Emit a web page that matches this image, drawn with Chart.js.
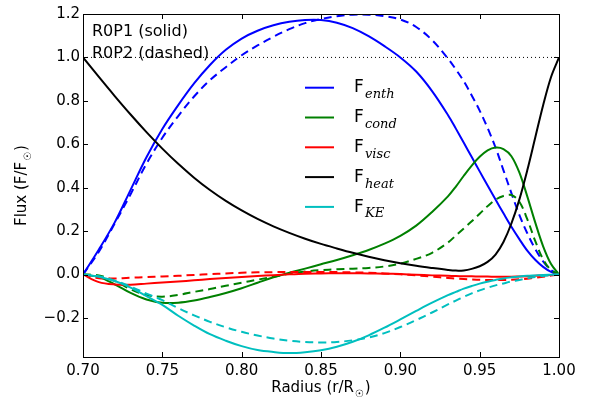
<!DOCTYPE html>
<html>
<head>
<meta charset="utf-8">
<script src="https://cdn.jsdelivr.net/npm/chart.js@4"></script>
<style>
  html, body { margin: 0; padding: 0; background: #fff; }
  canvas { display: block; }
</style>
</head>
<body>
<canvas id="fluxChart" width="592" height="408"></canvas>
<script>
// radius grid (r/Rsun), finer near the surface
const radius = [0.70, 0.71, 0.72, 0.73, 0.74, 0.75, 0.76, 0.77, 0.78, 0.79,
                0.80, 0.81, 0.82, 0.83, 0.84, 0.85, 0.86, 0.87, 0.88, 0.89,
                0.90, 0.91, 0.92, 0.93, 0.935, 0.94, 0.945, 0.95, 0.955, 0.96,
                0.965, 0.97, 0.975, 0.98, 0.985, 0.99, 0.995, 1.00];

// R0P1 (solid)
const enthSolid = [0, 0.115, 0.24, 0.39, 0.54, 0.67, 0.78, 0.88, 0.965, 1.035,
                   1.087, 1.123, 1.148, 1.164, 1.172, 1.172, 1.16, 1.135, 1.098, 1.052,
                   1.0, 0.935, 0.845, 0.735, 0.672, 0.607, 0.541, 0.475, 0.41, 0.345,
                   0.282, 0.22, 0.163, 0.11, 0.068, 0.035, 0.012, 0];
const condSolid = [0, -0.012, -0.045, -0.085, -0.115, -0.13, -0.13, -0.12, -0.104, -0.085,
                   -0.063, -0.038, -0.013, 0.008, 0.027, 0.047, 0.067, 0.089, 0.113, 0.142,
                   0.178, 0.225, 0.288, 0.36, 0.405, 0.455, 0.502, 0.542, 0.572, 0.585,
                   0.578, 0.545, 0.47, 0.36, 0.24, 0.13, 0.048, 0];
const viscSolid = [0, -0.035, -0.046, -0.047, -0.042, -0.037, -0.032, -0.027, -0.021, -0.016,
                   -0.011, -0.007, -0.003, 0.001, 0.004, 0.005, 0.006, 0.006, 0.005, 0.004,
                   0.002, -0.001, -0.004, -0.006, -0.007, -0.008, -0.0085, -0.009, -0.0095, -0.01,
                   -0.01, -0.01, -0.009, -0.008, -0.006, -0.004, -0.002, 0];
const heatSolid = [1.0, 0.91, 0.822, 0.737, 0.656, 0.58, 0.51, 0.446, 0.389, 0.339,
                   0.295, 0.256, 0.222, 0.192, 0.165, 0.141, 0.12, 0.1, 0.082, 0.066,
                   0.052, 0.04, 0.03, 0.021, 0.018, 0.019, 0.026, 0.038, 0.058, 0.092,
                   0.15, 0.235, 0.345, 0.48, 0.63, 0.78, 0.91, 1.0];
const keSolid   = [0, -0.01, -0.03, -0.06, -0.1, -0.14, -0.19, -0.235, -0.275, -0.305,
                   -0.33, -0.348, -0.357, -0.362, -0.358, -0.349, -0.333, -0.31, -0.28, -0.245,
                   -0.207, -0.168, -0.13, -0.095, -0.08, -0.065, -0.053, -0.042, -0.033, -0.025,
                   -0.018, -0.013, -0.009, -0.006, -0.004, -0.002, -0.001, 0];

// R0P2 (dashed)
const enthDashed = [0, 0.105, 0.235, 0.37, 0.51, 0.63, 0.73, 0.82, 0.895, 0.955,
                    1.01, 1.055, 1.095, 1.13, 1.158, 1.177, 1.19, 1.197, 1.197, 1.19,
                    1.175, 1.14, 1.08, 0.995, 0.945, 0.89, 0.825, 0.755, 0.675, 0.585,
                    0.48, 0.375, 0.275, 0.19, 0.118, 0.06, 0.02, 0];
const condDashed = [0, -0.004, -0.03, -0.068, -0.095, -0.102, -0.094, -0.08, -0.067, -0.052,
                    -0.038, -0.024, -0.01, 0.004, 0.014, 0.02, 0.024, 0.027, 0.03, 0.037,
                    0.05, 0.072, 0.1, 0.147, 0.18, 0.212, 0.245, 0.28, 0.315, 0.345,
                    0.362, 0.366, 0.335, 0.255, 0.155, 0.07, 0.02, 0];
const viscDashed = [0, -0.017, -0.018, -0.015, -0.012, -0.009, -0.006, -0.002, 0.002, 0.005,
                    0.008, 0.01, 0.011, 0.012, 0.012, 0.012, 0.011, 0.01, 0.008, 0.005,
                    0.001, -0.004, -0.01, -0.016, -0.019, -0.021, -0.023, -0.024, -0.025, -0.025,
                    -0.025, -0.024, -0.022, -0.019, -0.015, -0.01, -0.005, 0];
const keDashed   = [0, -0.008, -0.028, -0.056, -0.088, -0.118, -0.155, -0.188, -0.218, -0.243,
                    -0.264, -0.281, -0.295, -0.305, -0.311, -0.313, -0.311, -0.303, -0.29, -0.27,
                    -0.242, -0.21, -0.175, -0.138, -0.12, -0.103, -0.087, -0.073, -0.061, -0.05,
                    -0.041, -0.032, -0.025, -0.018, -0.012, -0.007, -0.003, 0];

// reference line at F = Fsun
const refRadius = [0.70, 1.00];
const refLevel = [1.0, 1.0];

const xTicks = [0.70, 0.75, 0.80, 0.85, 0.90, 0.95, 1.00];
const yTicks = [-0.2, 0.0, 0.2, 0.4, 0.6, 0.8, 1.0, 1.2];
const annotations = ['R0P1 (solid)', 'R0P2 (dashed)'];

const BLUE = '#0000ff', GREEN = '#008000', RED = '#ff0000', BLACK = '#000000', CYAN = '#00bfbf';
const DASH = [8, 5];

function pts(xs, ys) {
    return xs.map((x, i) => ({ x: x, y: ys[i] }));
}

function series(ys, color, dashed, order, legendSub) {
    return {
        data: pts(radius, ys),
        borderColor: color,
        borderWidth: 2,
        borderDash: dashed ? DASH : [],
        pointRadius: 0,
        fill: false,
        tension: 0.35,
        order: order,
        legendSub: legendSub || null
    };
}

const datasets = [
    {
        data: pts(refRadius, refLevel),
        borderColor: BLACK,
        borderWidth: 1,
        borderDash: [1, 3],
        pointRadius: 0,
        fill: false,
        order: 20
    },
    series(enthSolid, BLUE, false, 10, 'enth'),
    series(enthDashed, BLUE, true, 9),
    series(condSolid, GREEN, false, 8, 'cond'),
    series(condDashed, GREEN, true, 7),
    series(viscSolid, RED, false, 6, 'visc'),
    series(viscDashed, RED, true, 5),
    series(heatSolid, BLACK, false, 4, 'heat'),
    series(keSolid, CYAN, false, 3, 'KE'),
    series(keDashed, CYAN, true, 2)
];

const SANS = '"DejaVu Sans", sans-serif';
const MATH = '"DejaVu Serif", serif';

const decorations = {
    id: 'decorations',
    afterDraw(chart) {
        const ctx = chart.ctx;
        const a = chart.chartArea;
        const xs = chart.scales.x, ys = chart.scales.y;
        ctx.save();

        // frame
        ctx.strokeStyle = '#000';
        ctx.lineWidth = 1;
        ctx.strokeRect(Math.round(a.left) + 0.5, Math.round(a.top) + 0.5,
                       Math.round(a.right - a.left), Math.round(a.bottom - a.top));

        // inward ticks on all sides
        ctx.beginPath();
        xTicks.forEach(v => {
            const px = Math.round(xs.getPixelForValue(v)) + 0.5;
            ctx.moveTo(px, a.bottom); ctx.lineTo(px, a.bottom - 5);
            ctx.moveTo(px, a.top); ctx.lineTo(px, a.top + 5);
        });
        yTicks.forEach(v => {
            const py = Math.round(ys.getPixelForValue(v)) + 0.5;
            ctx.moveTo(a.left, py); ctx.lineTo(a.left + 5, py);
            ctx.moveTo(a.right, py); ctx.lineTo(a.right - 5, py);
        });
        ctx.stroke();

        // run labels
        ctx.fillStyle = '#000';
        ctx.font = '16px ' + SANS;
        ctx.textBaseline = 'alphabetic';
        ctx.textAlign = 'left';
        annotations.forEach((t, i) => ctx.fillText(t, a.left + 9, 36 + i * 21.6));

        // legend
        let row = 0;
        chart.data.datasets.forEach(ds => {
            if (!ds.legendSub) return;
            const y = 87.7 + row * 29.8;
            ctx.strokeStyle = ds.borderColor;
            ctx.lineWidth = 2;
            ctx.setLineDash([]);
            ctx.beginPath();
            ctx.moveTo(305, y); ctx.lineTo(334, y);
            ctx.stroke();
            ctx.fillStyle = '#000';
            ctx.font = '17px ' + SANS;
            ctx.fillText('F', 354, y + 4.6);
            ctx.font = 'italic 13px ' + MATH;
            ctx.fillText(ds.legendSub, 365, y + 10.5);
            row++;
        });

        // axis titles with solar subscript
        function titleWithSun(main, cx, cy) {
            ctx.font = '15px ' + SANS;
            const w1 = ctx.measureText(main).width;
            ctx.font = '10px ' + SANS;
            const w2 = ctx.measureText('\u2609').width + 2;
            ctx.font = '15px ' + SANS;
            const w3 = ctx.measureText(')').width;
            const x0 = cx - (w1 + w2 + w3) / 2;
            ctx.fillText(main, x0, cy);
            ctx.font = '10px ' + SANS;
            ctx.fillText('\u2609', x0 + w1 + 1, cy + 5);
            ctx.font = '15px ' + SANS;
            ctx.fillText(')', x0 + w1 + w2, cy);
        }
        ctx.fillStyle = '#000';
        titleWithSun('Radius (r/R', (a.left + a.right) / 2, 392);
        ctx.save();
        ctx.translate(26, (a.top + a.bottom) / 2);
        ctx.rotate(-Math.PI / 2);
        titleWithSun('Flux (F/F', 0, 0);
        ctx.restore();

        ctx.restore();
    }
};

new Chart(document.getElementById('fluxChart').getContext('2d'), {
    type: 'line',
    data: { datasets: datasets },
    options: {
        responsive: false,
        animation: false,
        devicePixelRatio: 1,
        layout: { padding: { left: 0, right: 33, top: 14, bottom: 0 } },
        plugins: { legend: { display: false }, tooltip: { enabled: false } },
        scales: {
            x: {
                type: 'linear',
                min: 0.70,
                max: 1.00,
                afterFit: s => { s.height = 51; },
                afterBuildTicks: s => { s.ticks = xTicks.map(v => ({ value: v })); },
                grid: { drawOnChartArea: false, drawTicks: false },
                border: { display: false },
                ticks: {
                    color: '#000',
                    font: { family: SANS, size: 15 },
                    padding: 5,
                    maxRotation: 0,
                    callback: v => v.toFixed(2)
                }
            },
            y: {
                type: 'linear',
                min: -0.38,
                max: 1.2,
                afterFit: s => { s.width = 83; },
                afterBuildTicks: s => { s.ticks = yTicks.map(v => ({ value: v })); },
                grid: { drawOnChartArea: false, drawTicks: false },
                border: { display: false },
                ticks: {
                    color: '#000',
                    font: { family: SANS, size: 15 },
                    padding: 3,
                    callback: v => (v < -1e-9 ? '\u2212' : '') + Math.abs(v).toFixed(1)
                }
            }
        }
    },
    plugins: [decorations]
});
</script>
</body>
</html>
